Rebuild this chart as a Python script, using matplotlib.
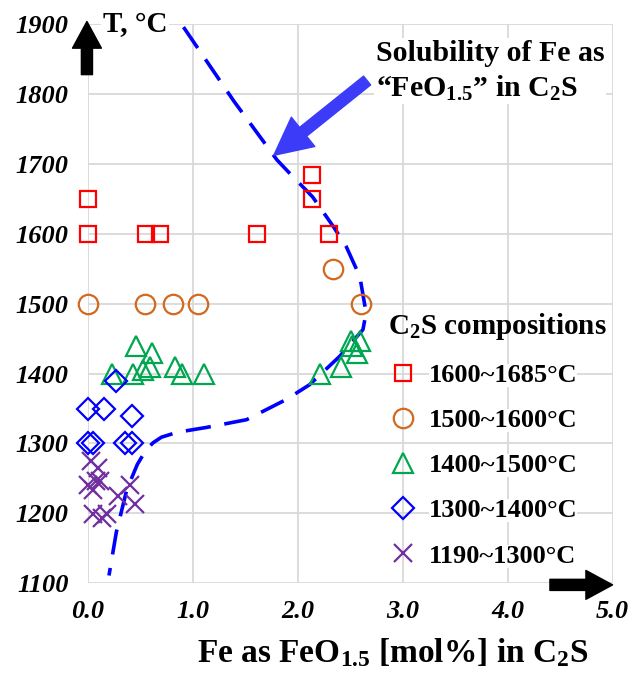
import numpy as np
import matplotlib
matplotlib.use('Agg')
import matplotlib.pyplot as plt

plt.rcParams['font.family'] = 'Liberation Serif'
plt.rcParams['font.weight'] = 'bold'
plt.rcParams['mathtext.fontset'] = 'custom'
plt.rcParams['mathtext.rm'] = 'Liberation Serif:bold'
plt.rcParams['mathtext.bf'] = 'Liberation Serif:bold'
plt.rcParams['mathtext.it'] = 'Liberation Serif:bold:italic'

# C2S compositions, x = FeO1.5 mol%, y = T in C
sq_x = [0.0, 0.0, 0.55, 0.69, 1.61, 2.13, 2.13, 2.30]
sq_y = [1650, 1600, 1600, 1600, 1600, 1685, 1650, 1600]

ci_x = [0.0, 0.54, 0.81, 1.05, 2.33, 2.60]
ci_y = [1500, 1500, 1500, 1500, 1550, 1500]

tri_x = [0.23, 0.46, 0.61, 0.43, 0.52, 0.59, 0.83, 0.90, 1.11, 2.21, 2.41, 2.56, 2.52, 2.51, 2.59]
tri_y = [1400, 1440, 1430, 1400, 1405, 1410, 1410, 1400, 1400, 1400, 1410, 1430, 1440, 1446, 1446]

dia_x = [0.27, 0.0, 0.15, 0.42, 0.0, 0.05, 0.35, 0.42]
dia_y = [1390, 1350, 1350, 1340, 1300, 1300, 1300, 1300]

cr_x = [0.03, 0.10, 0.08, 0.0, 0.05, 0.11, 0.29, 0.40, 0.45, 0.05, 0.13, 0.18]
cr_y = [1275, 1265, 1246, 1241, 1234, 1246, 1225, 1241, 1213, 1199, 1194, 1199]

# solubility line
cv_x = [0.91, 1.39, 1.80, 1.92, 2.14, 2.34, 2.46, 2.59, 2.65, 2.62, 2.40, 2.11,
        1.89, 1.51, 1.13, 0.85, 0.70, 0.62, 0.55, 0.47, 0.37, 0.27, 0.20]
cv_y = [1896, 1790, 1706, 1687, 1653, 1610, 1582, 1539, 1487, 1463, 1425, 1384,
        1363, 1334, 1323, 1316, 1309, 1301, 1290, 1270, 1234, 1173, 1111]

labels = ['1600~1685°C', '1500~1600°C', '1400~1500°C', '1300~1400°C', '1190~1300°C']

fig = plt.figure(figsize=(6.33, 6.75), dpi=100)
ax = fig.add_axes([0.139, 0.136, 0.829, 0.828])

ax.set_xlim(0, 5)
ax.set_ylim(1100, 1900)
ax.set_xticks(np.arange(0, 5.1, 1))
ax.set_yticks(np.arange(1100, 1901, 100))
ax.set_xticklabels(['%.1f' % v for v in np.arange(0, 5.1, 1)])
ax.grid(True, color='#d9d9d9', lw=1.3)
ax.set_axisbelow(True)
for s in ax.spines.values():
    s.set_visible(False)
ax.tick_params(axis='y', length=0, labelsize=19, pad=14)
ax.tick_params(axis='x', length=0, labelsize=19, pad=12)
for t in ax.get_xticklabels() + ax.get_yticklabels():
    t.set_fontstyle('italic')
    t.set_fontweight('bold')

ax.plot(cv_x, cv_y, color='#0000ff', lw=2.6, dashes=(7, 3.8), zorder=3)

mk = dict(ls='none', mfc='none', mew=1.6, clip_on=False, zorder=4)
ax.plot(sq_x, sq_y, marker='s', ms=12, mec='#ff0000', label=labels[0], **mk)
ax.plot(ci_x, ci_y, marker='o', ms=14, mec='#d2691e', label=labels[1], **mk)
ax.plot(tri_x, tri_y, marker='^', ms=14, mec='#00a650', label=labels[2], **mk)
ax.plot(dia_x, dia_y, marker='D', ms=11, mec='#0000ff', label=labels[3], **mk)
ax.plot(cr_x, cr_y, marker='x', ms=13, mec='#7030a0', label=labels[4], **mk)

leg = ax.legend(loc='upper left', bbox_to_anchor=(0.571, 0.487), frameon=False,
                title='C$_2$S compositions', fontsize=19, title_fontsize=21,
                handlelength=1.2, handletextpad=0.35, labelspacing=0.82,
                borderaxespad=0, borderpad=0)
leg._legend_box.align = 'left'
for t in leg.get_texts():
    t.set_bbox(dict(facecolor='white', edgecolor='none', pad=0))

# axis arrows
ax.annotate('', xy=(-0.002, 1.01), xytext=(-0.002, 0.905), xycoords='axes fraction',
            arrowprops=dict(arrowstyle='simple,head_width=1.3,head_length=1.2,tail_width=0.5',
                            color='black', mutation_scale=16), annotation_clip=False)
ax.annotate('', xy=(1.005, -0.003), xytext=(0.875, -0.003), xycoords='axes fraction',
            arrowprops=dict(arrowstyle='simple,head_width=1.3,head_length=1.2,tail_width=0.5',
                            color='black', mutation_scale=16), annotation_clip=False)
ax.text(0.028, 1.0, 'T, °C', transform=ax.transAxes, fontsize=21, va='center', ha='left',
        bbox=dict(facecolor='white', edgecolor='none', pad=1))

# callout
ax.annotate('', xy=(1.75, 1710), xytext=(2.68, 1822),
            arrowprops=dict(arrowstyle='simple,head_width=1.5,head_length=1.5,tail_width=0.45',
                            color='#3b3bf8', mutation_scale=18))
ax.text(2.74, 1878, 'Solubility of Fe as\n\u201cFeO$_{1.5}$\u201d in C$_2$S', fontsize=21.5,
        va='top', ha='left', linespacing=1.3,
        bbox=dict(facecolor='white', edgecolor='none', pad=1))

ax.set_xlabel('Fe as FeO$_{1.5}$ [mol%] in C$_2$S', fontsize=24, fontweight='bold',
              labelpad=14)
ax.xaxis.set_label_coords(0.58, -0.095)

fig.savefig('out.png', dpi=100)
